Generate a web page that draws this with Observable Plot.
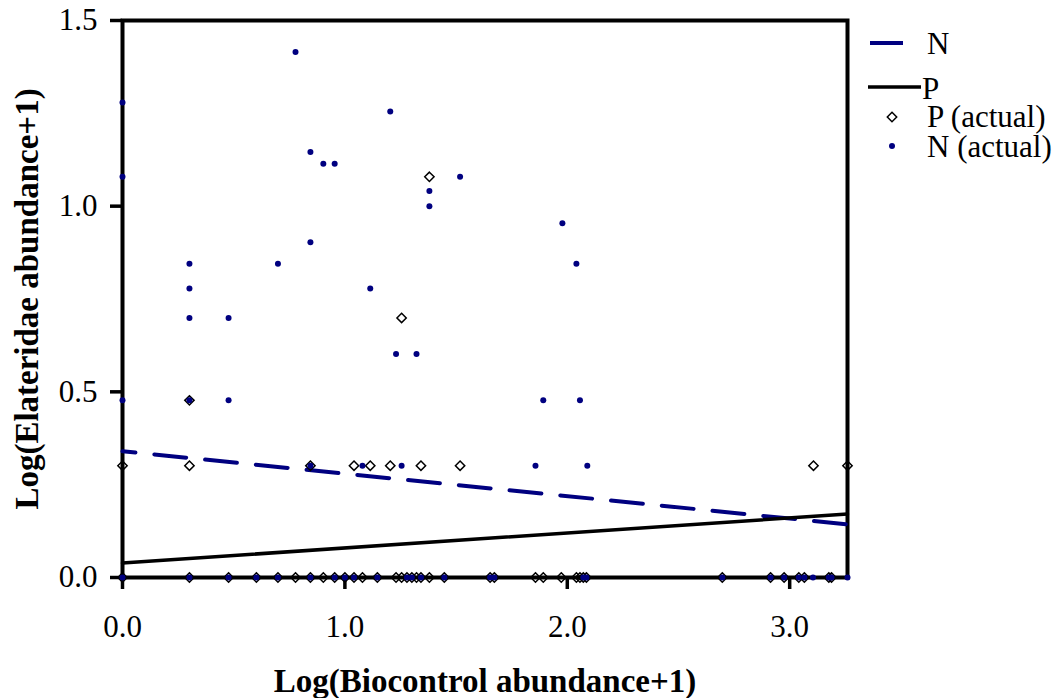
<!DOCTYPE html>
<html><head><meta charset="utf-8">
<script src="https://cdn.jsdelivr.net/npm/d3@7"></script>
<script src="https://cdn.jsdelivr.net/npm/@observablehq/plot@0.6"></script>
<style>
body{margin:0;background:white;}
#wrap{position:relative;width:1063px;height:698px;overflow:hidden;}
#legend{position:absolute;left:0;top:0;pointer-events:none;}
[aria-label="x-axis label"] text,[aria-label="y-axis label"] text{font-weight:bold;font-size:33px;}
</style></head>
<body><div id="wrap"></div>
<script>
// N (actual) observations
const nX = [0, 0, 0, 0.301, 0.301, 0.301, 0.301, 0.477, 0.477, 0.699, 0.778, 0.845, 0.845, 0.845, 0.903, 0.954, 1.079, 1.114, 1.204, 1.230, 1.255, 1.322, 1.380, 1.380, 1.518, 1.857, 1.892, 1.978, 2.041, 2.057, 2.090,
  0, 0.301, 0.477, 0.602, 0.699, 0.845, 0.954, 1.000, 1.041, 1.146, 1.279, 1.301, 1.342, 1.447, 1.653, 1.672, 2.072, 2.086, 2.697, 2.914, 2.975, 3.041, 3.066, 3.105, 3.176, 3.188, 3.26];
const nY = [1.279, 1.079, 0.477, 0.845, 0.778, 0.699, 0.477, 0.699, 0.477, 0.845, 1.415, 1.146, 0.903, 0.301, 1.114, 1.114, 0.301, 0.778, 1.255, 0.602, 0.301, 0.602, 1.041, 1.000, 1.079, 0.301, 0.477, 0.954, 0.845, 0.477, 0.301,
  0, 0, 0, 0, 0, 0, 0, 0, 0, 0, 0, 0, 0, 0, 0, 0, 0, 0, 0, 0, 0, 0, 0, 0, 0, 0, 0];
// P (actual) observations
const pX = [0, 0.301, 0.301, 0.845, 1.041, 1.114, 1.204, 1.342, 1.518, 3.107, 3.26, 1.255, 1.380,
  0, 0.301, 0.477, 0.602, 0.699, 0.778, 0.845, 0.903, 0.954, 1.000, 1.041, 1.079, 1.146, 1.230, 1.255, 1.279, 1.301, 1.322, 1.342, 1.380, 1.447, 1.653, 1.672, 1.857, 1.892, 1.973, 2.041, 2.057, 2.072, 2.086, 2.697, 2.914, 2.975, 3.041, 3.066, 3.176, 3.188];
const pY = [0.301, 0.301, 0.477, 0.301, 0.301, 0.301, 0.301, 0.301, 0.301, 0.301, 0.301, 0.699, 1.079,
  0, 0, 0, 0, 0, 0, 0, 0, 0, 0, 0, 0, 0, 0, 0, 0, 0, 0, 0, 0, 0, 0, 0, 0, 0, 0, 0, 0, 0, 0, 0, 0, 0, 0, 0, 0, 0];
// fitted trend lines (end points)
const fitX = [0, 3.26];
const nFitY = [0.340, 0.143];
const pFitY = [0.039, 0.171];
const xTicks = [0, 1, 2, 3];
const yTicks = [0, 0.5, 1, 1.5];
const legendLabels = ["N", "P", "P (actual)", "N (actual)"];
const navy = "#000080";
const serif = "'Liberation Serif','Times New Roman',serif";

const chart = Plot.plot({
  width: 1063, height: 698,
  marginLeft: 122, marginRight: 216, marginTop: 20, marginBottom: 121,
  style: {fontFamily: serif, fontSize: "31px", color: "black", background: "white"},
  x: {domain: [0, 3.26]},
  y: {domain: [0, 1.5]},
  marks: [
    Plot.axisX({ticks: xTicks, tickSize: 12, tickPadding: 25, strokeWidth: 3.5, tickFormat: d3.format(".1f"),
      label: "Log(Biocontrol abundance+1)", labelAnchor: "center", labelOffset: 114, labelArrow: "none"}),
    Plot.axisY({ticks: yTicks, tickSize: 12, tickPadding: 13, strokeWidth: 3.5, tickFormat: d3.format(".1f"),
      label: "Log(Elateridae abundance+1)", labelAnchor: "center", labelOffset: 108, labelArrow: "none"}),
    Plot.frame({stroke: "black", strokeWidth: 4}),
    Plot.line(fitX, {x: fitX, y: nFitY, stroke: navy, strokeWidth: 4, strokeDasharray: "32,19", strokeDashoffset: 19}),
    Plot.line(fitX, {x: fitX, y: pFitY, stroke: "black", strokeWidth: 3.5}),
    Plot.dot(pX, {x: pX, y: pY, symbol: "diamond2", r: 4.2, stroke: "black", strokeWidth: 1.5, fill: "none"}),
    Plot.dot(nX, {x: nX, y: nY, r: 3, fill: navy, stroke: "none"})
  ]
});
const wrap = document.getElementById("wrap");
wrap.appendChild(chart);

// legend (right of the plot)
const ns = "http://www.w3.org/2000/svg";
const lg = document.createElementNS(ns, "svg");
lg.setAttribute("id", "legend");
lg.setAttribute("width", 1063); lg.setAttribute("height", 200);
lg.innerHTML = `
  <line x1="870" x2="903" y1="43" y2="43" stroke="${navy}" stroke-width="4"/>
  <line x1="868" x2="921" y1="87" y2="87" stroke="black" stroke-width="3.5"/>
  <path d="M892,112.3L896.7,117L892,121.7L887.3,117Z" fill="none" stroke="black" stroke-width="1.5"/>
  <circle cx="892" cy="146" r="3" fill="${navy}"/>
  <g font-family="${serif}" font-size="31" fill="black">
    <text x="927" y="54">${legendLabels[0]}</text>
    <text x="922" y="99">${legendLabels[1]}</text>
    <text x="927" y="127">${legendLabels[2]}</text>
    <text x="927" y="157">${legendLabels[3]}</text>
  </g>`;
wrap.appendChild(lg);
</script>
</body></html>
